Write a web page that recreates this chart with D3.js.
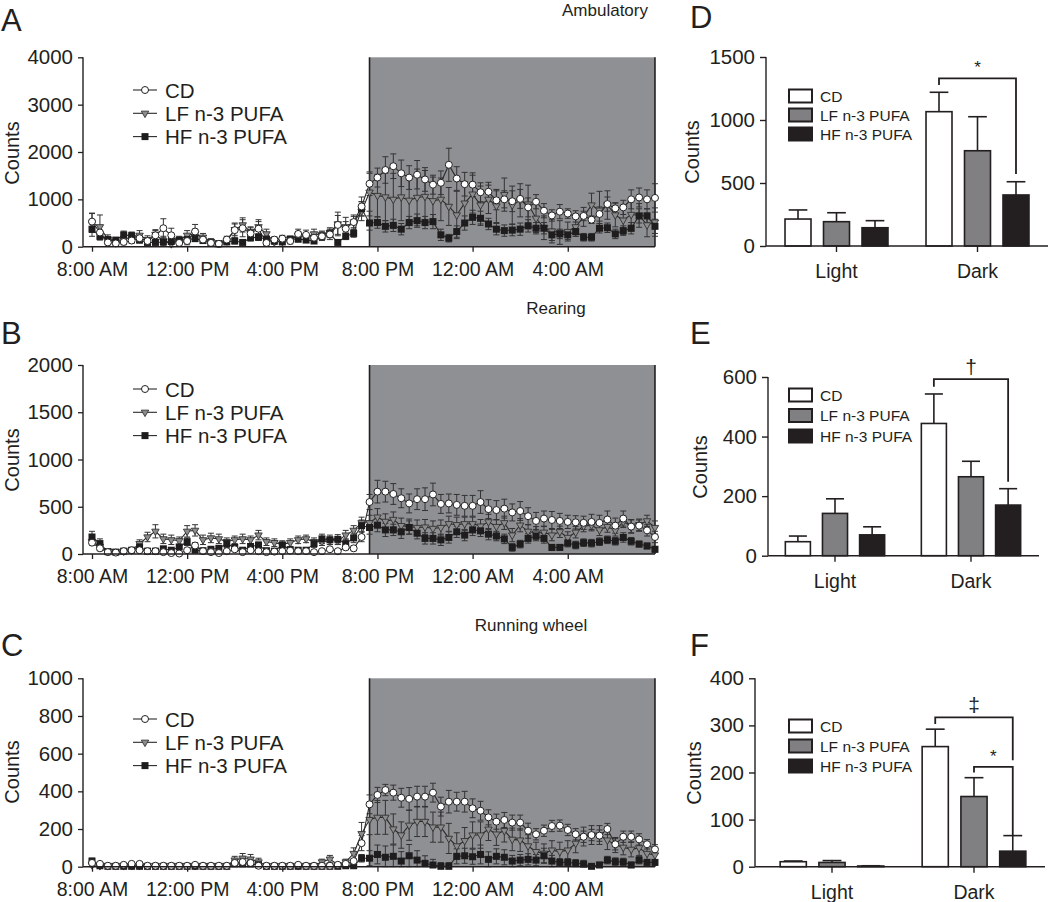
<!DOCTYPE html>
<html><head><meta charset="utf-8">
<script src="https://cdn.jsdelivr.net/npm/d3@7"></script>
<style>
body{margin:0;background:#fff}
svg text{font-family:"Liberation Sans",Arial,Helvetica,sans-serif;fill:#231f20}
</style>
</head><body>
<svg id="chart" width="1050" height="902"></svg>
<script>
// ---------------- DATA ----------------
const timeLabels = ["8:00 AM","12:00 PM","4:00 PM","8:00 PM","12:00 AM","4:00 AM"];
const seriesNames = ["CD","LF n-3 PUFA","HF n-3 PUFA"];
const panelTitles = ["Ambulatory","Rearing","Running wheel"];
// 72 points, 20-min bins starting 8:00 AM; lights off at point 35 (7:40 PM)
const lightsOffIndex = 35;

// Panel A - Ambulatory
const A_CD = [530,300,90,70,100,130,180,120,240,390,240,80,120,320,150,80,60,150,350,390,280,380,80,150,170,120,270,250,190,220,260,460,380,520,850,
1330,1460,1620,1700,1550,1460,1520,1420,1310,1350,1730,1440,1320,1310,1150,1160,980,1000,960,1010,830,950,760,660,740,700,640,650,570,690,900,810,830,1000,1040,1000,1030];
const A_LF = [500,420,150,100,140,200,240,150,260,120,60,140,240,270,200,110,80,120,360,460,320,420,270,100,110,160,240,200,270,250,300,480,420,520,750,
1150,1080,1050,1000,1050,980,1040,1060,970,1000,850,670,920,1110,880,1000,860,1100,880,980,900,600,400,330,300,320,420,630,880,770,880,670,560,680,660,460,520];
const A_HF = [370,220,150,140,250,230,140,90,90,100,110,140,150,170,130,80,60,100,120,90,190,200,160,120,100,160,160,140,120,220,270,90,220,280,800,
500,510,430,450,370,510,550,510,530,250,180,320,500,620,600,480,370,340,350,370,440,390,390,250,270,250,320,200,200,390,400,270,340,390,650,650,430];
const A_CD_err = [180,150,80,60,60,60,80,60,100,200,150,60,80,150,80,60,50,70,150,180,120,150,60,60,70,60,100,100,80,90,110,200,150,120,200,
250,200,280,260,280,250,300,250,200,250,350,250,250,250,200,200,200,180,220,200,200,150,150,120,150,100,120,100,80,150,150,120,150,200,200,200,300];
const A_LF_err = [200,250,100,80,80,100,100,80,100,100,60,80,100,100,80,60,50,60,120,150,100,150,100,50,60,60,80,80,100,80,100,250,200,150,200,
400,450,500,550,500,500,600,550,500,450,400,500,450,400,400,300,350,350,400,350,400,300,250,250,250,200,200,200,250,400,300,250,300,350,250,250,300];
const A_HF_err = [150,80,60,50,80,80,60,40,40,40,50,60,60,60,50,40,30,50,60,40,70,70,60,50,40,60,60,50,50,70,80,40,70,80,150,
150,120,120,130,120,130,140,130,150,120,80,120,150,150,150,120,120,120,120,130,130,120,120,120,100,100,100,80,80,100,100,100,100,120,150,150,150];

// Panel B - Rearing
const B_CD = [120,60,20,15,30,40,40,30,30,20,10,5,40,90,30,20,10,30,50,20,40,30,20,25,30,35,30,30,20,30,50,30,70,60,180,
550,660,660,635,590,535,580,580,630,530,535,520,510,510,550,475,465,480,440,455,400,350,375,360,350,340,335,330,340,330,365,300,375,290,300,250,180];
const B_LF = [130,80,30,25,30,40,110,180,240,160,150,140,240,250,150,170,160,130,150,160,150,200,130,120,100,120,150,160,130,130,140,140,200,250,330,
330,390,345,365,300,290,280,285,270,280,320,310,320,320,295,340,290,330,200,305,240,220,230,200,235,175,230,295,305,255,290,250,340,295,310,350,280];
const B_HF = [180,110,25,20,30,40,75,30,30,55,40,75,130,40,35,50,60,110,70,40,80,95,35,30,95,45,40,40,110,160,150,155,110,170,300,
280,305,255,255,235,280,220,165,165,150,175,235,200,255,245,210,190,160,70,105,165,190,165,70,70,115,95,120,115,130,150,135,175,135,105,85,50];
const B_CD_err = [30,25,10,10,10,15,15,15,10,10,10,10,15,30,15,10,10,15,20,10,15,15,10,10,10,15,10,10,10,15,20,15,25,25,50,
80,120,110,110,100,100,110,120,120,100,100,110,110,110,120,100,100,100,90,100,90,90,80,90,80,70,70,70,80,80,90,80,80,70,60,60,60];
const B_LF_err = [40,40,20,15,20,20,40,50,70,50,50,40,60,60,50,50,50,40,40,50,40,50,40,40,40,40,40,40,40,40,40,40,50,50,60,
80,90,80,80,80,80,80,80,80,80,80,80,70,70,70,80,70,70,70,70,70,70,60,60,60,60,60,60,60,60,60,60,60,70,60,60,70];
const B_HF_err = [60,50,15,15,15,15,20,15,15,20,15,20,40,20,20,20,20,40,30,20,30,30,20,20,30,20,20,20,40,50,50,50,50,50,60,
70,70,70,60,70,70,60,60,60,60,60,60,60,60,60,60,50,50,40,40,50,50,50,30,30,40,40,40,40,40,40,40,50,40,30,30,30];

// Panel C - Running wheel
const C_CD = [20,15,5,5,10,15,15,5,5,5,5,5,5,10,5,5,5,5,20,25,20,5,5,5,5,5,10,5,5,5,5,10,15,30,125,
331,381,407,393,366,360,372,372,393,319,345,345,345,310,297,262,239,248,234,234,191,172,191,216,218,195,172,159,168,165,200,119,159,159,145,119,92];
const C_LF = [10,5,5,5,5,5,5,5,5,5,5,5,5,5,5,5,5,5,35,45,40,25,5,5,5,5,5,5,5,25,40,10,25,70,175,
250,262,262,200,168,220,240,240,210,210,150,110,138,168,168,199,173,191,145,141,110,80,71,88,80,88,124,160,168,168,141,115,103,92,100,70,62];
const C_HF = [30,5,2,2,2,2,2,2,2,2,2,2,2,2,2,2,2,2,15,15,15,10,2,2,2,2,2,2,2,2,2,2,5,5,45,
45,65,50,55,30,58,35,18,9,2,2,55,58,53,65,39,55,50,30,35,39,35,58,30,23,23,18,14,2,9,35,27,25,9,35,23,23];
const C_CD_err = [10,5,3,3,3,5,5,3,3,3,3,3,3,5,3,3,3,3,15,20,15,3,3,3,3,3,5,3,3,3,3,5,5,10,40,
50,40,30,40,50,60,55,55,50,50,60,50,55,50,50,40,40,40,40,40,40,30,30,30,30,30,30,30,30,30,30,30,30,30,30,25,25];
const C_LF_err = [10,3,3,3,3,3,3,3,3,3,3,3,3,3,3,3,3,3,20,25,25,20,3,3,3,3,3,3,3,15,20,8,15,30,60,
80,90,90,80,70,80,80,80,80,80,80,70,70,70,70,60,60,60,60,60,60,50,50,50,50,50,50,50,50,50,50,40,40,40,40,40,40];
const C_HF_err = [15,3,2,2,2,2,2,2,2,2,2,2,2,2,2,2,2,2,10,10,10,8,2,2,2,2,2,2,2,2,2,2,3,3,20,
40,50,60,60,50,60,50,40,30,20,20,40,40,40,50,40,40,40,30,30,30,30,40,30,20,20,20,20,10,15,20,20,20,15,20,15,15];

// Bar panels (Light / Dark means and SEM)
const periods = ["Light","Dark"];
const D_light = [214,193,145], D_light_err = [72,71,56];
const D_dark  = [1066,756,405], D_dark_err = [154,270,105];
const E_light = [47,142,70],   E_light_err = [19,49,27];
const E_dark  = [444,265,170], E_dark_err = [99,52,55];
const F_light = [10.6,9,1.5],  F_light_err = [1.5,4,0.5];
const F_dark  = [255,149,33],  F_dark_err = [37,40,33];
// significance brackets: [from series, to series, top value, left drop value, right drop value, symbol]
const D_brackets = [[0,2,1331,1278,571,"*"]];
const E_brackets = [[0,2,593,567,248,"\u2020"]];
const F_brackets = [[0,2,317,303,226,"\u2021"],[1,2,212,200,67,"*"]];

// ---------------- DRAWING ----------------
const INK = "#231f20";
const svg = d3.select("#chart");
const x = d3.scaleLinear().domain([0,24]).range([92, 92 + 95.15*6]);
const hourOf = i => i/3;

function panelLetter(t, px, py){
  svg.append("text").attr("x",px).attr("y",py).attr("font-size",31).text(t);
}
function countsLabel(cx, cy, fs){
  svg.append("text").attr("transform",`translate(${cx},${cy}) rotate(-90)`)
    .attr("text-anchor","middle").attr("dominant-baseline","central")
    .attr("font-size",fs).text("Counts");
}

function markerFor(g, k, cx, cy){
  if(k===0){
    g.append("circle").attr("cx",cx).attr("cy",cy).attr("r",3.5)
      .attr("fill","#fff").attr("stroke","#222").attr("stroke-width",1);
  } else if(k===1){
    g.append("path").attr("d", d3.symbol(d3.symbolTriangle, 24)())
      .attr("transform",`translate(${cx},${cy}) rotate(180)`)
      .attr("fill","#8c8c8c").attr("stroke","#333").attr("stroke-width",0.9);
  } else {
    g.append("rect").attr("x",cx-3.5).attr("y",cy-3.5).attr("width",7).attr("height",7)
      .attr("fill","#1e1c1d");
  }
}

function linePanel(cfg){
  const y = d3.scaleLinear().domain([0,cfg.yMax]).range([cfg.bottom, cfg.top]);
  const g = svg.append("g");
  const xOff = x(hourOf(lightsOffIndex)), xEnd = x(hourOf(71));
  // dark phase shading
  g.append("rect").attr("x",xOff).attr("y",y(cfg.yMax)).attr("width",xEnd-xOff)
    .attr("height",y(0)-y(cfg.yMax)).attr("fill","#8f9094");
  [xOff,xEnd].forEach(xx=>g.append("line").attr("x1",xx).attr("x2",xx)
    .attr("y1",y(cfg.yMax)).attr("y2",y(0)).attr("stroke",INK).attr("stroke-width",1.6));
  // error bars
  cfg.series.forEach((s,k)=>{
    s.values.forEach((v,i)=>{
      const e = s.err[i], cx = x(hourOf(i));
      const y1 = y(Math.max(0,v-e)), y2 = y(v+e);
      g.append("line").attr("x1",cx).attr("x2",cx).attr("y1",y1).attr("y2",y2)
        .attr("stroke","#333").attr("stroke-width",1);
      [y1,y2].forEach(yy=>g.append("line").attr("x1",cx-3).attr("x2",cx+3)
        .attr("y1",yy).attr("y2",yy).attr("stroke","#333").attr("stroke-width",1));
    });
  });
  // lines
  const ln = d3.line().x((d,i)=>x(hourOf(i))).y(d=>y(d));
  cfg.series.forEach(s=>{
    g.append("path").attr("d",ln(s.values)).attr("fill","none")
      .attr("stroke","#2a2a2a").attr("stroke-width",1.1);
  });
  // markers
  [1,2,0].forEach(k=>{
    cfg.series[k].values.forEach((v,i)=>markerFor(g,k,x(hourOf(i)),y(v)));
  });
  // axes
  const ya = g.append("g").attr("transform","translate(83,0)")
    .call(d3.axisLeft(y).tickValues(d3.range(0,cfg.yMax+1,cfg.yStep))
      .tickFormat(d3.format("d")).tickSize(5).tickSizeOuter(0).tickPadding(5));
  const xa = g.append("g").attr("transform",`translate(0,${y(0)})`)
    .call(d3.axisBottom(x).tickValues([0,4,8,12,16,20])
      .tickFormat((d,i)=>timeLabels[i]).tickSize(5).tickSizeOuter(0).tickPadding(10));
  [ya,xa].forEach(a=>{
    a.select(".domain").remove();
    a.selectAll("line").attr("stroke",INK).attr("stroke-width",1.3);
    a.selectAll("text").attr("fill",INK).attr("font-family",null);
  });
  ya.selectAll("text").attr("font-size",20.5);
  xa.selectAll("text").attr("font-size",19.5);
  g.append("line").attr("x1",83).attr("x2",83).attr("y1",y(0)).attr("y2",y(cfg.yMax))
    .attr("stroke",INK).attr("stroke-width",1.4);
  g.append("line").attr("x1",83).attr("x2",xEnd).attr("y1",y(0)).attr("y2",y(0))
    .attr("stroke",INK).attr("stroke-width",1.4);
  // legend
  cfg.series.forEach((s,k)=>{
    const ly = cfg.legendY + k*23.3;
    g.append("line").attr("x1",133).attr("x2",157).attr("y1",ly).attr("y2",ly)
      .attr("stroke","#2a2a2a").attr("stroke-width",1.1);
    markerFor(g,k,145,ly);
    g.append("text").attr("x",165).attr("y",ly).attr("dominant-baseline","central")
      .attr("font-size",20.5).text(seriesNames[k]);
  });
  // title, letter, y-label
  svg.append("text").attr("x",cfg.titleX).attr("y",cfg.titleY).attr("text-anchor","middle")
    .attr("dominant-baseline","central").attr("font-size",17).text(cfg.title);
  panelLetter(cfg.letter, 1, cfg.letterY);
  countsLabel(12, cfg.countsY, 20);
}

linePanel({top:57.3,bottom:246.7,yMax:4000,yStep:1000,title:panelTitles[0],titleX:605,titleY:10,
  letter:"A",letterY:31,legendY:90,countsY:153,
  series:[{values:A_CD,err:A_CD_err},{values:A_LF,err:A_LF_err},{values:A_HF,err:A_HF_err}]});
linePanel({top:365,bottom:554,yMax:2000,yStep:500,title:panelTitles[1],titleX:556,titleY:308,
  letter:"B",letterY:344,legendY:389,countsY:460,
  series:[{values:B_CD,err:B_CD_err},{values:B_LF,err:B_LF_err},{values:B_HF,err:B_HF_err}]});
linePanel({top:678.3,bottom:866.7,yMax:1000,yStep:200,title:panelTitles[2],titleX:531,titleY:625,
  letter:"C",letterY:656,legendY:719,countsY:772,
  series:[{values:C_CD,err:C_CD_err},{values:C_LF,err:C_LF_err},{values:C_HF,err:C_HF_err}]});

const barFills = ["#ffffff","#808082","#231f20"];

function barPanel(cfg){
  const y = d3.scaleLinear().domain([0,cfg.yMax]).range([cfg.bottom,cfg.top]);
  const x0 = d3.scaleBand().domain(periods).range(cfg.band).padding(0);
  const x1 = d3.scaleBand().domain([0,1,2]).range([0,x0.bandwidth()])
    .paddingInner(0.325).paddingOuter(0.494);
  const g = svg.append("g");
  const data = [cfg.light, cfg.dark], errs = [cfg.lightErr, cfg.darkErr];
  const bw = x1.bandwidth();
  periods.forEach((p,pi)=>{
    data[pi].forEach((v,k)=>{
      const bx = x0(p)+x1(k);
      g.append("rect").attr("x",bx).attr("y",y(v)).attr("width",bw).attr("height",y(0)-y(v))
        .attr("fill",barFills[k]).attr("stroke",INK).attr("stroke-width",1.6);
      const cx = bx + bw/2, ye = y(v+errs[pi][k]);
      g.append("line").attr("x1",cx).attr("x2",cx).attr("y1",y(v)).attr("y2",ye)
        .attr("stroke",INK).attr("stroke-width",1.6);
      g.append("line").attr("x1",cx-bw*0.36).attr("x2",cx+bw*0.36).attr("y1",ye).attr("y2",ye)
        .attr("stroke",INK).attr("stroke-width",1.6);
    });
  });
  // brackets
  cfg.brackets.forEach(b=>{
    const xl = x0("Dark")+x1(b[0])+bw/2, xr = x0("Dark")+x1(b[1])+bw/2;
    g.append("path").attr("d",`M${xl},${y(b[3])}V${y(b[2])}H${xr}V${y(b[4])}`)
      .attr("fill","none").attr("stroke",INK).attr("stroke-width",1.8);
    g.append("text").attr("x",(xl+xr)/2).attr("y",y(b[2])-5).attr("text-anchor","middle")
      .attr("font-size", b[5]==="*"?17:21).text(b[5]);
  });
  // axes
  const ya = g.append("g").attr("transform",`translate(${cfg.axisX},0)`)
    .call(d3.axisLeft(y).tickValues(d3.range(0,cfg.yMax+1,cfg.yStep))
      .tickFormat(d3.format("d")).tickSize(6).tickSizeOuter(0).tickPadding(5));
  const xa = g.append("g").attr("transform",`translate(0,${y(0)})`)
    .call(d3.axisBottom(x0).tickSize(6).tickSizeOuter(0).tickPadding(12));
  [ya,xa].forEach(a=>{
    a.select(".domain").remove();
    a.selectAll("line").attr("stroke",INK).attr("stroke-width",1.4);
    a.selectAll("text").attr("fill",INK).attr("font-family",null);
  });
  ya.selectAll("text").attr("font-size",20.5);
  xa.selectAll("text").attr("font-size",19.5);
  g.append("line").attr("x1",cfg.axisX).attr("x2",cfg.axisX).attr("y1",y(0)).attr("y2",y(cfg.yMax))
    .attr("stroke",INK).attr("stroke-width",1.4);
  g.append("line").attr("x1",cfg.axisX).attr("x2",cfg.band[1]).attr("y1",y(0)).attr("y2",y(0))
    .attr("stroke",INK).attr("stroke-width",1.4);
  // legend
  seriesNames.forEach((n,k)=>{
    const ly = cfg.legendY + k*cfg.legendStep;
    g.append("rect").attr("x",789).attr("y",ly-6.5).attr("width",23).attr("height",13)
      .attr("fill",barFills[k]).attr("stroke",INK).attr("stroke-width",2);
    g.append("text").attr("x",820).attr("y",ly).attr("dominant-baseline","central")
      .attr("font-size",15.5).text(n);
  });
  panelLetter(cfg.letter, 690, cfg.letterY);
  countsLabel(cfg.countsX, cfg.countsY, 20);
}

barPanel({letter:"D",letterY:28,top:57,bottom:246,yMax:1500,yStep:500,axisX:766,band:[766,1048],
  light:D_light,lightErr:D_light_err,dark:D_dark,darkErr:D_dark_err,brackets:D_brackets,
  legendY:96,legendStep:19,countsX:692,countsY:152});
barPanel({letter:"E",letterY:344,top:377,bottom:555.7,yMax:600,yStep:200,axisX:768,band:[767,1039],
  light:E_light,lightErr:E_light_err,dark:E_dark,darkErr:E_dark_err,brackets:E_brackets,
  legendY:395,legendStep:20.5,countsX:700,countsY:467});
barPanel({letter:"F",letterY:656,top:678.3,bottom:866.7,yMax:400,yStep:100,axisX:755,band:[761,1045],
  light:F_light,lightErr:F_light_err,dark:F_dark,darkErr:F_dark_err,brackets:F_brackets,
  legendY:726,legendStep:20,countsX:694,countsY:773});
</script>
</body></html>
